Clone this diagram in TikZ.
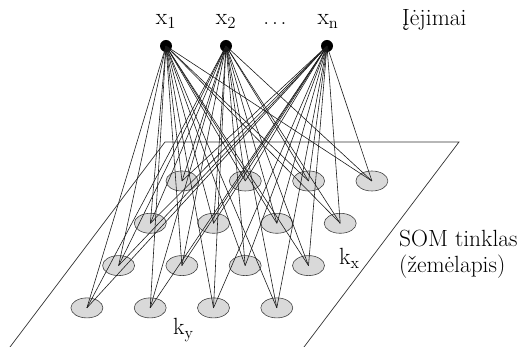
\documentclass[tikz,border=0pt]{standalone}
\usepackage{fontspec}
\usetikzlibrary{shapes.geometric}

\begin{document}
\begin{tikzpicture}[x=0.03cm,y=-0.03cm,
  input/.style={circle,fill=black,inner sep=0pt,minimum size=0.36cm},
  neuron/.style={ellipse,draw=black!75,fill=black!15,line width=0.5pt,inner sep=0pt,minimum width=0.96cm,minimum height=0.6cm},
  link/.style={black!90,line width=0.5pt},
  lbl/.style={font=\fontsize{20}{24}\selectfont,inner sep=0pt}]
\useasboundingbox (0,0) rectangle (522,347);
% map plane (bottom edge runs off the page)
\draw[black!80,line width=0.6pt] (10,347) -- (165,142) -- (459,142) -- (304,347);
% 4x4 grid of map units, rows shifted to the left
\foreach \r in {0,...,3} {
  \foreach \c in {0,...,3} {
    \node[neuron] (n\r\c) at ({182+63.3*\c-31.7*\r},{181+42.3*\r}) {};
  }
}
% input units
\node[input] (in1) at (166,46) {};
\node[input] (in2) at (226,46) {};
\node[input] (in3) at (327,46) {};
% every input feeds every map unit
\foreach \i in {1,2,3} {
  \foreach \r in {0,...,3} {
    \foreach \c in {0,...,3} {
      \draw[link] (in\i.center) -- (n\r\c.center);
    }
  }
}
% labels
\node[lbl,anchor=base] (lx1) at (166,25) {$\mathrm{x}_1$};
\node[lbl,anchor=base] (lx2) at (226,25) {$\mathrm{x}_2$};
\node[lbl,anchor=base] (ldots) at (275,25) {.\hspace{0.12em}.\hspace{0.12em}.};
\node[lbl,anchor=base] (lxn) at (328,25) {$\mathrm{x}_\mathrm{n}$};
\node[lbl,anchor=base west] (inputs) at (402,26) {Įėjimai};
\node[lbl,anchor=base west] (kx) at (339,265) {k$_\mathrm{x}$};
\node[lbl,anchor=base west] (ky) at (173,335) {k$_\mathrm{y}$};
\node[lbl,anchor=base west] (som) at (399,247) {SOM tinklas};
\node[lbl,anchor=base west] (som2) at (399,273) {(žemėlapis)};
\end{tikzpicture}
\end{document}
